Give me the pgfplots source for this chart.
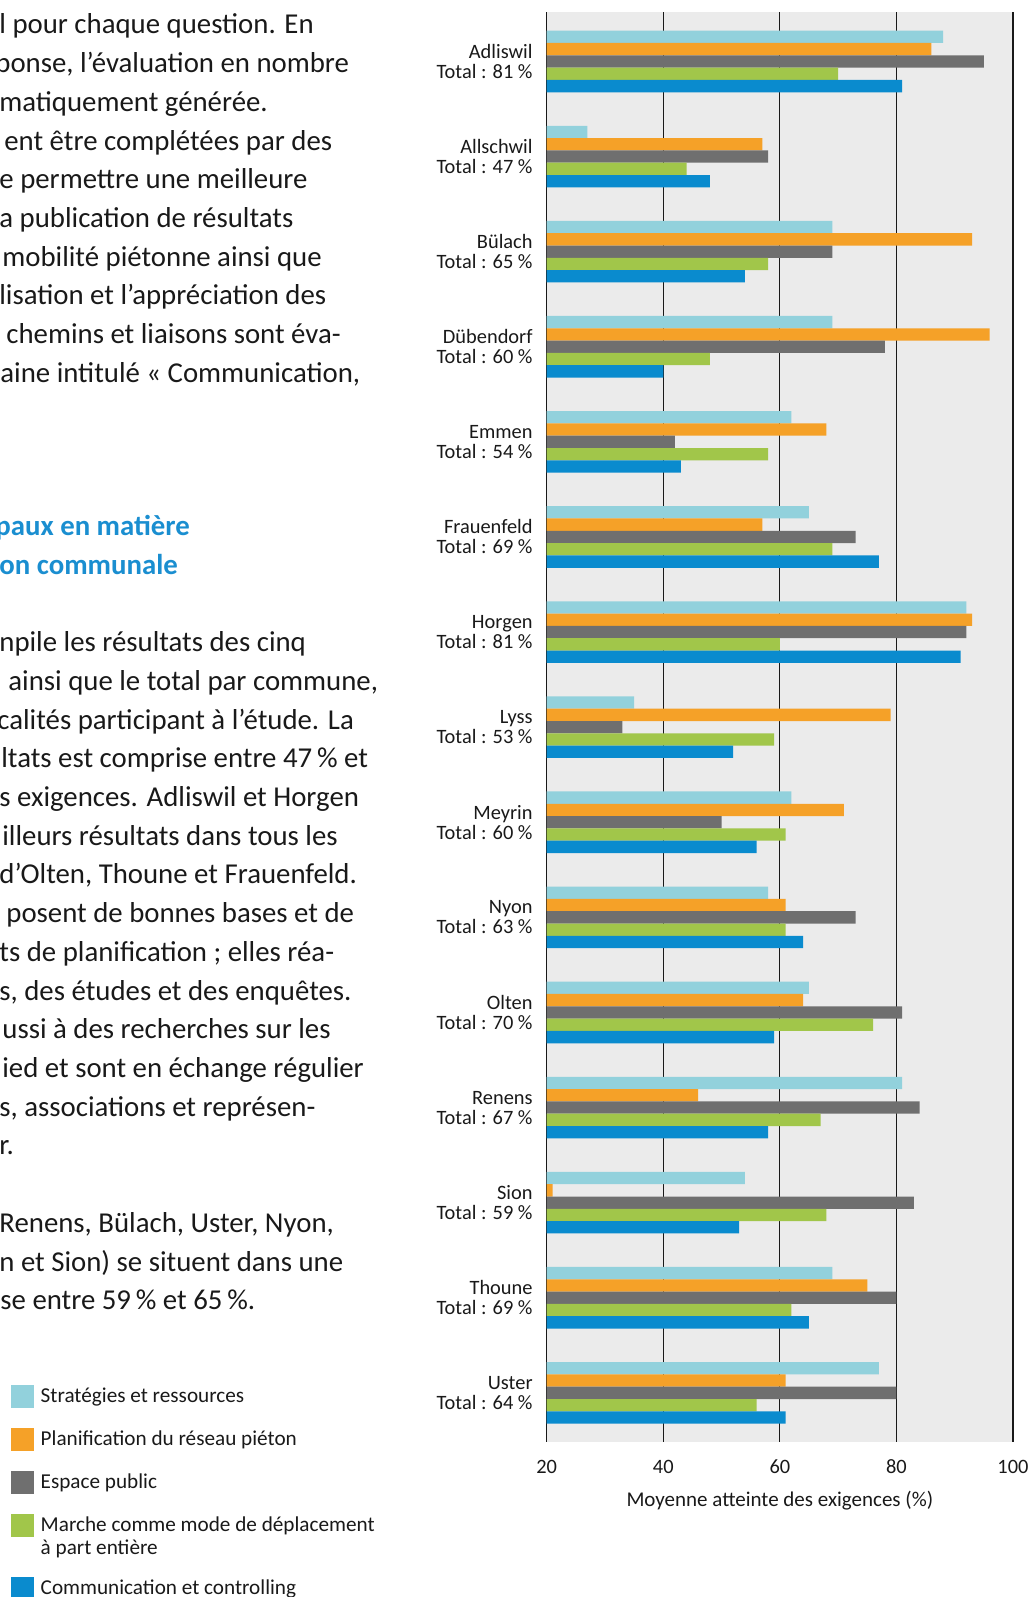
\documentclass[border=0pt]{standalone}
\usepackage{fontspec}
\setmainfont{Carlito}
\usepackage{pgfplots}
\pgfplotsset{compat=1.18}
\definecolor{cA}{HTML}{92D1DC}
\definecolor{cB}{HTML}{F5A128}
\definecolor{cC}{HTML}{6F6F6F}
\definecolor{cD}{HTML}{A1C64A}
\definecolor{cE}{HTML}{0A8BCE}
\definecolor{bg}{HTML}{EBEBEB}
\definecolor{head}{HTML}{1A8ED0}
\pgfplotsset{
  sq/.style={legend image code/.code={\fill[##1] (0pt,-5.75pt) rectangle (11.5pt,5.75pt);}},
  squp/.style={legend image code/.code={\fill[##1] (0pt,0pt) rectangle (11.5pt,11.5pt);}},
}
\begin{document}
\begin{tikzpicture}
\useasboundingbox (0,0) rectangle (516pt,798.5pt);
\begin{scope}[x=0.5pt,y=-0.5pt,shift={(0pt,798.5pt)},
  every node/.style={anchor=base west, inner sep=0pt, text=black!90, font=\fontsize{14.4pt}{19pt}\selectfont}]
\node at (-1,34) {l pour chaque question. En};
\node at (-5,72.7) {ponse, l’évaluation en nombre};
\node at (-1,111.4) {matiquement générée.};
\node at (4,150.1) {ent être complétées par des};
\node at (-1,188.8) {e permettre une meilleure};
\node at (-1,227.5) {a publication de résultats};
\node at (2,266.2) {mobilité piétonne ainsi que};
\node at (-1,304.9) {lisation et l’appréciation des};
\node at (6,343.6) {chemins et liaisons sont éva-};
\node at (0,382.3) {aine intitulé « Communication,};
\node[text=head, font=\fontsize{14.4pt}{19pt}\selectfont\bfseries] at (-5,536) {paux en matière};
\node[text=head, font=\fontsize{14.4pt}{19pt}\selectfont\bfseries] at (-1,575) {on communale};
\node at (-1,651.8) {npile les résultats des cinq};
\node at (8,690.5) {ainsi que le total par commune,};
\node at (-3,729.2) {calités participant à l’étude. La};
\node at (1,767.9) {ltats est comprise entre 47\,\% et};
\node at (-1,806.6) {s exigences. Adliswil et Horgen};
\node at (2,845.3) {illeurs résultats dans tous les};
\node at (-1,884) {d’Olten, Thoune et Frauenfeld.};
\node at (6,922.7) {posent de bonnes bases et de};
\node at (-1,961.4) {ts de planification ; elles réa-};
\node at (-1,1000.1) {s, des études et des enquêtes.};
\node at (2,1038.8) {ussi à des recherches sur les};
\node at (2,1077.5) {ied et sont en échange régulier};
\node at (-1,1116.2) {s, associations et représen-};
\node at (-1,1154.9) {r.};
\node at (-1,1232.6) {Renens, Bülach, Uster, Nyon,};
\node at (-1,1271.3) {n et Sion) se situent dans une};
\node at (0,1310) {se entre 59\,\% et 65\,\%.};
\end{scope}
\begin{axis}[
  at={(273.35pt,77.35pt)}, anchor=south west,
  scale only axis, width=233.15pt, height=715.15pt,
  xbar, bar width=0.1295,
  xmin=20, xmax=100, ymin=-0.52, ymax=14.52, y dir=reverse,
  xtick={20,40,60,80,100}, ytick={0,...,14},
  yticklabels={{Adliswil\\Total : 81 \%},{Allschwil\\Total : 47 \%},{Bülach\\Total : 65 \%},{Dübendorf\\Total : 60 \%},{Emmen\\Total : 54 \%},{Frauenfeld\\Total : 69 \%},{Horgen\\Total : 81 \%},{Lyss\\Total : 53 \%},{Meyrin\\Total : 60 \%},{Nyon\\Total : 63 \%},{Olten\\Total : 70 \%},{Renens\\Total : 67 \%},{Sion\\Total : 59 \%},{Thoune\\Total : 69 \%},{Uster\\Total : 64 \%}},
  axis line style={draw=none},
  major tick length=0pt,
  xmajorgrids, major grid style={draw=black!90, line width=0.6pt},
  axis background/.style={fill=bg},
  tick label style={font=\fontsize{10.2pt}{10pt}\selectfont, text=black!90},
  xticklabel style={anchor=center, yshift=-12.2pt},
  yticklabel style={anchor=east, align=right, inner sep=0pt, xshift=-6.85pt},
  /pgf/number format/assume math mode=true,
  xlabel={Moyenne atteinte des exigences (\%)},
  xlabel style={at={(axis description cs:0.5,0)}, anchor=center, yshift=-29.3pt, font=\fontsize{10.5pt}{10pt}\selectfont, text=black!90},
  legend style={at={(-1.1488,0.0401)}, anchor=north west, draw=none, fill=none, inner sep=0pt, outer sep=0pt,
    font=\fontsize{10.6pt}{11.35pt}\selectfont, text=black!90, cells={anchor=west, align=left}, row sep=10pt, column sep=3.35pt, nodes={inner sep=0pt}},
  legend cell align=left,
]
\addplot[fill=cA, draw=none, bar shift=-0.259, sq] coordinates {
(88,0) (27,1) (69,2) (69,3) (62,4) (65,5) (92,6) (35,7) (62,8) (58,9) (65,10) (81,11) (54,12) (69,13) (77,14)};
\addlegendentry{Stratégies et ressources}
\addplot[fill=cB, draw=none, bar shift=-0.1295, sq] coordinates {
(86,0) (57,1) (93,2) (96,3) (68,4) (57,5) (93,6) (79,7) (71,8) (61,9) (64,10) (46,11) (21,12) (75,13) (61,14)};
\addlegendentry{Planification du réseau piéton}
\addplot[fill=cC, draw=none, bar shift=0, sq] coordinates {
(95,0) (58,1) (69,2) (78,3) (42,4) (73,5) (92,6) (33,7) (50,8) (73,9) (81,10) (84,11) (83,12) (80,13) (80,14)};
\addlegendentry{Espace public}
\addplot[fill=cD, draw=none, bar shift=0.1295, squp] coordinates {
(70,0) (44,1) (58,2) (48,3) (58,4) (69,5) (60,6) (59,7) (61,8) (61,9) (76,10) (67,11) (68,12) (62,13) (56,14)};
\addlegendentry{Marche comme mode de déplacement\\à part entière}
\addplot[fill=cE, draw=none, bar shift=0.259, sq] coordinates {
(81,0) (48,1) (54,2) (40,3) (43,4) (77,5) (91,6) (52,7) (56,8) (64,9) (59,10) (58,11) (53,12) (65,13) (61,14)};
\addlegendentry{Communication et controlling}
\end{axis}
\end{tikzpicture}
\end{document}
